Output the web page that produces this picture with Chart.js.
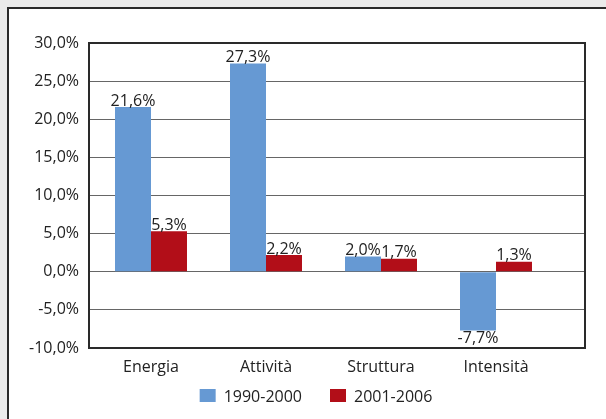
<!DOCTYPE html>
<html>
<head>
<meta charset="utf-8">
<script src="https://cdn.jsdelivr.net/npm/chart.js@4/dist/chart.umd.min.js"></script>
<style>
    html, body { margin: 0; padding: 0; background: #ebebeb; }
    body { width: 606px; height: 419px; position: relative; overflow: hidden; }
    .frame {
        position: absolute; left: 7px; top: 7px; width: 640px; height: 460px;
        background: #fff; border: 2px solid #2a2a2a; box-sizing: border-box;
    }
    #chart { position: absolute; left: 0; top: 0; }
</style>
</head>
<body>
<div class="frame"></div>
<canvas id="chart" width="606" height="419"></canvas>
<script>
// Categorie e serie
const categories = ['Energia', 'Attività', 'Struttura', 'Intensità'];
const serie1990 = [21.6, 27.3, 2.0, -7.7];
const serie2001 = [5.3, 2.2, 1.7, 1.3];
const seriesLabels = ['1990-2000', '2001-2006'];
const yTicks = [-10, -5, 0, 5, 10, 15, 20, 25, 30];

const fmt = v => v.toFixed(1).replace('.', ',') + '%';
const FONT = '"Open Sans", "Noto Sans", sans-serif';
const FS = 16;

// Etichette dei valori sopra/sotto le barre
const valueLabels = {
    id: 'valueLabels',
    afterDatasetsDraw(chart) {
        const ctx = chart.ctx;
        ctx.save();
        ctx.font = FS + 'px ' + FONT;
        ctx.fillStyle = '#222';
        ctx.textAlign = 'center';
        chart.data.datasets.forEach((ds, i) => {
            chart.getDatasetMeta(i).data.forEach((bar, j) => {
                const v = ds.data[j];
                if (v >= 0) {
                    ctx.textBaseline = 'bottom';
                    ctx.fillText(fmt(v), bar.x, bar.y + 2);
                } else {
                    ctx.textBaseline = 'top';
                    ctx.fillText(fmt(v), bar.x, bar.y);
                }
            });
        });
        ctx.restore();
    }
};

// Bordo dell'area del grafico
const areaBorder = {
    id: 'areaBorder',
    afterDraw(chart) {
        const a = chart.chartArea;
        const ctx = chart.ctx;
        ctx.save();
        ctx.strokeStyle = '#2a2a2a';
        ctx.lineWidth = 2;
        ctx.strokeRect(a.left, a.top, a.right - a.left, a.bottom - a.top);
        ctx.restore();
    }
};

// Legenda con altezza fissa; asse x più stretto dell'area (spazio vuoto a destra)
const layoutTweaks = {
    id: 'layoutTweaks',
    beforeInit(chart) {
        const legend = chart.legend;
        if (!legend) return;
        const fit = legend.fit;
        legend.fit = function () {
            fit.call(this);
            this.height = 41;
        };
    },
    afterLayout(chart) {
        const legend = chart.legend;
        if (legend) {
            const dx = 18.5, dy = -17;
            legend.left += dx; legend.right += dx;
            legend.top += dy; legend.bottom += dy;
        }
        const x = chart.scales.x;
        x._startPixel = x.left + 4.5;
        x._length = 460;
    }
};

new Chart(document.getElementById('chart'), {
    type: 'bar',
    data: {
        labels: categories,
        datasets: [{
            label: seriesLabels[0],
            data: serie1990,
            backgroundColor: '#6699d3'
        }, {
            label: seriesLabels[1],
            data: serie2001,
            backgroundColor: '#b20e18'
        }]
    },
    options: {
        responsive: false,
        animation: false,
        categoryPercentage: 0.626,
        barPercentage: 1,
        layout: { padding: { left: 10, top: 43, right: 21, bottom: 0 } },
        plugins: {
            legend: {
                position: 'bottom',
                labels: {
                    boxWidth: 16, boxHeight: 16, padding: 28,
                    color: '#222', font: { size: FS, family: FONT }
                }
            },
            tooltip: { enabled: false }
        },
        scales: {
            x: {
                grid: { display: false },
                border: { display: false },
                afterFit: s => { s.height = 30; },
                ticks: { color: '#222', font: { size: FS, family: FONT }, padding: 2 }
            },
            y: {
                min: -10, max: 30,
                afterBuildTicks: s => { s.ticks = yTicks.map(v => ({ value: v })); },
                afterFit: s => { s.width = 79; },
                grid: { color: '#666', lineWidth: 1, drawTicks: false },
                border: { display: false },
                ticks: {
                    color: '#222', font: { size: FS, family: FONT }, padding: 10,
                    callback: v => fmt(v)
                }
            }
        }
    },
    plugins: [valueLabels, areaBorder, layoutTweaks]
});
</script>
</body>
</html>
